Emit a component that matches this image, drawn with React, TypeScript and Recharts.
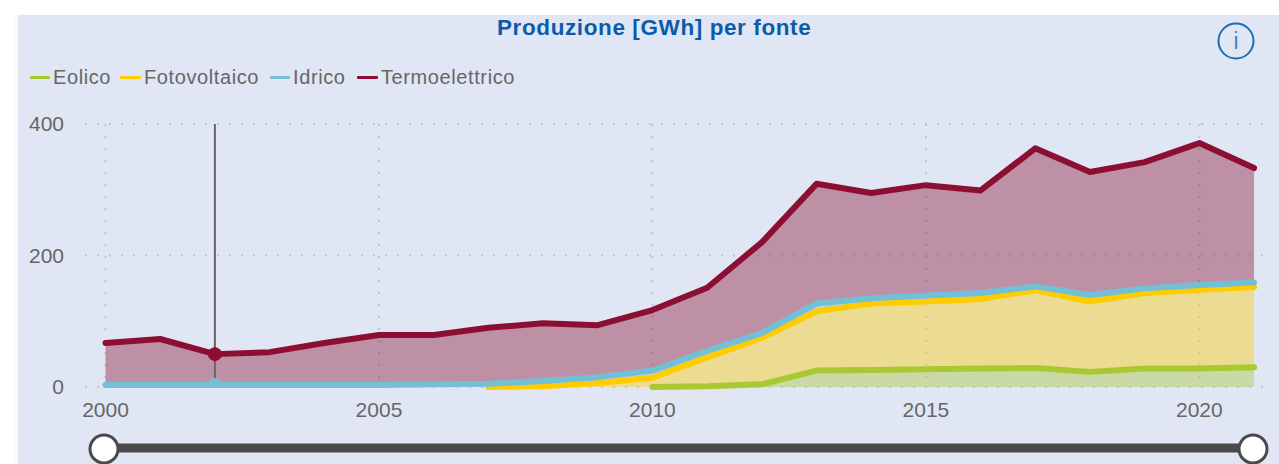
import React from "react";
import { ComposedChart, Area, XAxis, YAxis, CartesianGrid, ReferenceLine, Legend } from "recharts";

const years = [2000,2001,2002,2003,2004,2005,2006,2007,2008,2009,2010,2011,2012,2013,2014,2015,2016,2017,2018,2019,2020,2021];
const eolico: (number|null)[] = [null,null,null,null,null,null,null,null,null,null,0,1,4,25,26,27,28,29,23,28,28,30];
const fotovoltaico: (number|null)[] = [null,null,null,null,null,null,null,0,1,6,14,44,71,90,101,103,106,118,107,115,120,122];
const idrico = [3,3,3,3,3,3,4,5,8,9,11,10,7,12,8,9,9,6,10,7,7,7];
const termoelettrico = [64,70,47,50,64,76,75,85,88,79,92,96,138,182,160,168,156,210,187,192,216,174];
const xTicks = [2000,2005,2010,2015,2020];
const yTicks = [0,200,400];
const markedYear = 2002;
const seriesNames = ["Eolico", "Fotovoltaico", "Idrico", "Termoelettrico"];

const data = years.map((year, i) => ({
  year,
  Eolico: eolico[i],
  Fotovoltaico: fotovoltaico[i],
  Idrico: idrico[i],
  Termoelettrico: termoelettrico[i],
}));

const seriesColors: Record<string, string> = {
  Eolico: "#a9c832",
  Fotovoltaico: "#ffcc00",
  Idrico: "#72bfd6",
  Termoelettrico: "#8c0f33",
};
const markedSeries = ["Idrico", "Termoelettrico"];

const legendLayout: Record<string, { x: number; w: number }> = {
  Eolico: { x: 30, w: 20 },
  Fotovoltaico: { x: 120, w: 21 },
  Idrico: { x: 270, w: 20 },
  Termoelettrico: { x: 357, w: 21 },
};

const FONT = '"Liberation Sans", Arial, sans-serif';

function LegendContent() {
  return (
    <div style={{ position: "relative", height: 24, width: 600 }}>
      {seriesNames.map((name) => {
        const l = legendLayout[name];
        return (
          <React.Fragment key={name}>
            <div style={{ position: "absolute", left: l.x, top: 11, width: l.w, height: 3, background: seriesColors[name], borderRadius: 1 }} />
            <div style={{ position: "absolute", left: l.x + l.w + 3, top: 0, fontFamily: FONT, fontSize: 20, lineHeight: "24px", color: "#666", whiteSpace: "nowrap", letterSpacing: 0.6 }}>
              {name}
            </div>
          </React.Fragment>
        );
      })}
    </div>
  );
}

function renderDot(name: string) {
  return (p: any) => {
    if (!markedSeries.includes(name) || !p.payload || p.payload.year !== markedYear) return <g key={p.index} />;
    if (name === "Idrico") {
      const id = "clip-dot-idrico";
      return (
        <g key={p.index}>
          <clipPath id={id}>
            <rect x={p.cx - 10} y={p.cy - 10} width={20} height={13} />
          </clipPath>
          <circle cx={p.cx} cy={p.cy} r={7} fill={seriesColors[name]} clipPath={`url(#${id})`} />
        </g>
      );
    }
    return <circle key={p.index} cx={p.cx} cy={p.cy} r={7} fill={seriesColors[name]} />;
  };
}

export default function App() {
  return (
    <div style={{ position: "fixed", left: 0, top: 0, width: 1279, height: 464, background: "#fff", overflow: "hidden" }}>
      <div style={{ position: "absolute", left: 18, top: 15, right: 0, bottom: 0, background: "#e0e6f4", boxShadow: "-3px 0 3px rgba(0,0,0,0.03)" }} />
      <div style={{ position: "absolute", left: 497, top: 14, fontFamily: FONT, fontWeight: 700, fontSize: 22.5, lineHeight: "28px", letterSpacing: 0.6, color: "#0a5cab", whiteSpace: "nowrap" }}>
        Produzione [GWh] per fonte
      </div>
      <svg width={40} height={40} style={{ position: "absolute", left: 1216, top: 21 }}>
        <circle cx={20} cy={20} r={17.5} fill="none" stroke="#1a6fb5" strokeWidth={2} />
        <text x={20} y={28} textAnchor="middle" fontFamily={FONT} fontSize={23} fill="#3d86c6">i</text>
      </svg>
      <div style={{ position: "absolute", left: 0, top: 0 }}>
        <ComposedChart width={1279} height={464} data={data} margin={{ top: 100, right: 14, bottom: 47, left: 0 }}>
          <CartesianGrid stroke="#c2c5ce" strokeWidth={2} strokeDasharray="2 10" syncWithTicks />
          <XAxis
            dataKey="year"
            type="number"
            domain={[1999.625, 2021.2]}
            allowDataOverflow
            ticks={xTicks}
            tickLine={false}
            axisLine={false}
            height={30}
            tickMargin={9}
            interval={0}
            tick={{ fill: "#666", fontSize: 21, fontFamily: FONT }}
          />
          <YAxis
            type="number"
            domain={[0, 400]}
            ticks={yTicks}
            tickLine={false}
            axisLine={false}
            width={85}
            tickMargin={21}
            tickSize={0}
            tick={{ fill: "#666", fontSize: 21, fontFamily: FONT }}
          />
          <Legend verticalAlign="top" align="left" content={<LegendContent />} wrapperStyle={{ position: "absolute", left: 0, top: 65, width: 600 }} />
          {seriesNames.map((name) => (
            <Area
              key={`fill-${name}`}
              dataKey={name}
              stackId="fills"
              type="linear"
              stroke="none"
              fill={seriesColors[name]}
              fillOpacity={0.4}
              isAnimationActive={false}
              legendType="none"
            />
          ))}
          <ReferenceLine x={markedYear} stroke="#666" strokeWidth={2} />
          {seriesNames.map((name) => (
            <Area
              key={`line-${name}`}
              dataKey={name}
              stackId="lines"
              type="linear"
              stroke={seriesColors[name]}
              strokeWidth={6}
              strokeLinecap="round"
              strokeLinejoin="round"
              fill="none"
              isAnimationActive={false}
              dot={renderDot(name)}
            />
          ))}
        </ComposedChart>
      </div>
      <svg width={1279} height={40} style={{ position: "absolute", left: 0, top: 429 }}>
        <line x1={104} x2={1253} y1={19} y2={19} stroke="#4a4a4a" strokeWidth={9} />
        <circle cx={104} cy={20} r={14} fill="#fff" stroke="#4a4a4a" strokeWidth={3} />
        <circle cx={1253} cy={20} r={14} fill="#fff" stroke="#4a4a4a" strokeWidth={3} />
      </svg>
    </div>
  );
}
